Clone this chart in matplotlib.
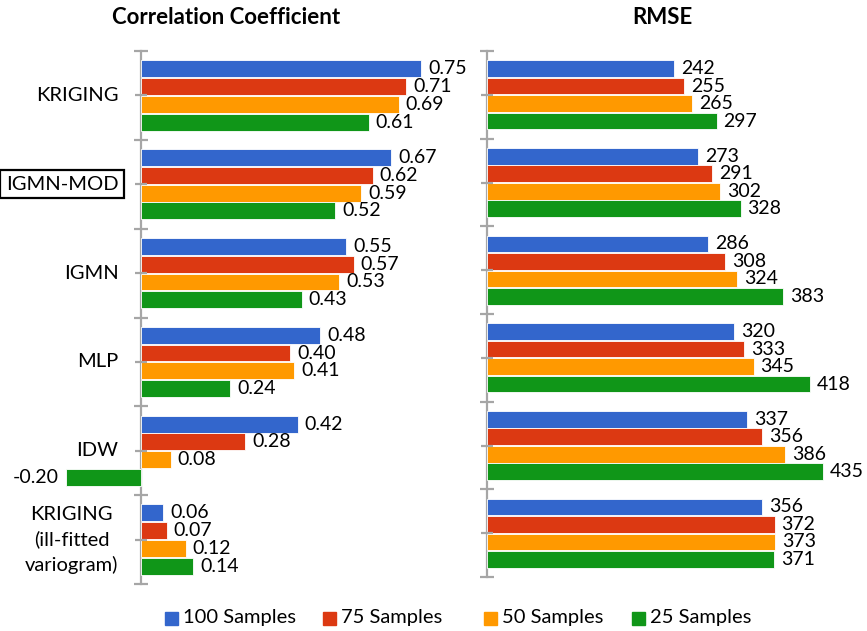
import numpy as np
import matplotlib
matplotlib.use("Agg")
import matplotlib.pyplot as plt
from matplotlib.patches import Rectangle

plt.rcParams['font.family'] = ['Lato', 'DejaVu Sans']

methods = ['KRIGING', 'IGMN-MOD', 'IGMN', 'MLP', 'IDW',
           'KRIGING\n(ill-fitted\nvariogram)']
series = ['100 Samples', '75 Samples', '50 Samples', '25 Samples']
colors = ['#3366cc', '#dc3912', '#ff9900', '#109618']

corr_100 = [0.75, 0.67, 0.55, 0.48, 0.42, 0.06]
corr_75 = [0.71, 0.62, 0.57, 0.40, 0.28, 0.07]
corr_50 = [0.69, 0.59, 0.53, 0.41, 0.08, 0.12]
corr_25 = [0.61, 0.52, 0.43, 0.24, -0.20, 0.14]

rmse_100 = [242, 273, 286, 320, 337, 356]
rmse_75 = [255, 291, 308, 333, 356, 372]
rmse_50 = [265, 302, 324, 345, 386, 373]
rmse_25 = [297, 328, 383, 418, 435, 371]

corr = [corr_100, corr_75, corr_50, corr_25]
rmse = [rmse_100, rmse_75, rmse_50, rmse_25]

W, H = 867, 631
fig = plt.figure(figsize=(W / 100, H / 100), dpi=100)

def px_axes(x0, y0, x1, y1):
    # pixel box (top-left origin) -> figure axes
    return fig.add_axes([x0 / W, 1 - y1 / H, (x1 - x0) / W, (y1 - y0) / H])

ax1 = px_axes(62, 51, 440, 584)
ax2 = px_axes(487, 51, 858, 577)

offsets = [-0.3, -0.1, 0.1, 0.3]
ypos = np.arange(len(methods))
spine_col = '#a6a6a6'
VAL_FS = 14
CAT_FS = 14.5


def draw_panel(ax, data, fmt, xlim):
    for vals, off, col in zip(data, offsets, colors):
        bars = ax.barh(ypos + off, vals, height=0.19, color=col,
                       edgecolor='white', linewidth=0.6)
        for b, v in zip(bars, vals):
            yc = b.get_y() + b.get_height() / 2
            if v < 0:
                ax.annotate(fmt(v), (v, yc), xytext=(-5, 0),
                            textcoords='offset points', ha='right',
                            va='center', fontsize=VAL_FS)
            else:
                ax.annotate(fmt(v), (v, yc), xytext=(5, 0),
                            textcoords='offset points', ha='left',
                            va='center', fontsize=VAL_FS)
    ax.set_xlim(*xlim)
    ax.set_ylim(len(methods) - 0.5, -0.5)
    for name in ['top', 'right', 'bottom']:
        ax.spines[name].set_visible(False)
    ax.spines['left'].set_position(('data', 0))
    ax.spines['left'].set_color(spine_col)
    ax.spines['left'].set_linewidth(1.6)
    ax.spines['left'].set_zorder(0.5)
    ax.set_xticks([])
    ax.set_yticks(ypos)
    ax.set_yticks(np.arange(len(methods) + 1) - 0.5, minor=True)
    ax.tick_params(axis='y', which='both', direction='inout', color=spine_col,
                   width=1.6)
    ax.tick_params(axis='y', which='major', length=8)
    ax.tick_params(axis='y', which='minor', length=10)
    ax.set_yticklabels([])
    ax.set_facecolor('none')


draw_panel(ax1, corr, lambda v: f'{v:.2f}', (-0.21, 0.8))
draw_panel(ax2, rmse, lambda v: f'{v:d}', (0, 480))

# category labels sit left of the zero line
for i, m in enumerate(methods):
    t = ax1.text(-22 / 373, i, m, fontsize=CAT_FS, ha='right', va='center',
                 multialignment='center', linespacing=1.5)
    if m == 'IGMN-MOD':
        t.set_bbox(dict(boxstyle='square,pad=0.28', fc='white', ec='black',
                        lw=1.6))

fig.text(226 / W, 1 - 18 / H, 'Correlation Coefficient', fontsize=16,
         fontweight='bold', ha='center', va='center')
fig.text(662 / W, 1 - 18 / H, 'RMSE', fontsize=16, fontweight='bold',
         ha='center', va='center')

# legend row along the bottom
leg_x = [165, 323, 484, 632]
leg_y = 618
for x, col, name in zip(leg_x, colors, series):
    fig.add_artist(Rectangle((x / W, 1 - (leg_y + 6.5) / H), 13 / W, 13 / H,
                             transform=fig.transFigure, color=col))
    fig.text((x + 18) / W, 1 - leg_y / H, name, fontsize=CAT_FS,
             ha='left', va='center')

fig.savefig('out.png', dpi=100)
